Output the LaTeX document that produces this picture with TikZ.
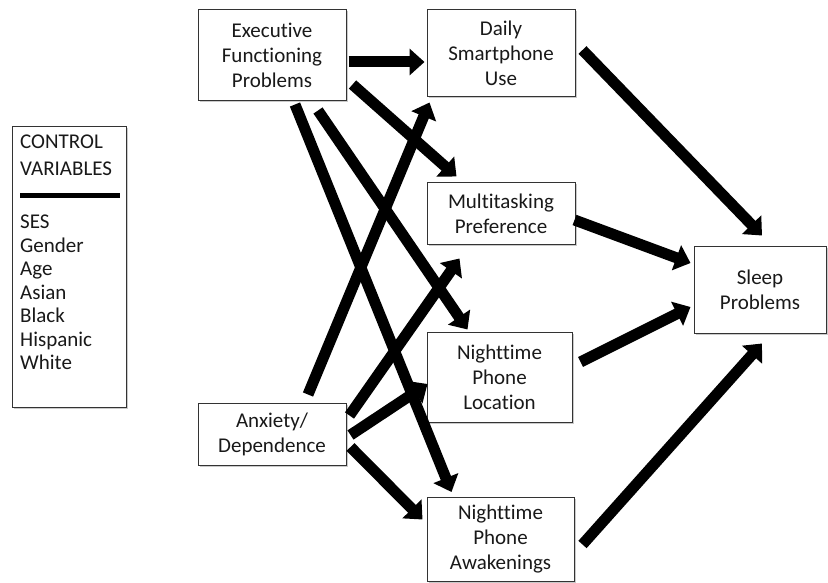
\documentclass[tikz,border=0pt]{standalone}
\usepackage{fontspec}
\setmainfont[Ligatures=NoCommon]{Carlito}
\usetikzlibrary{arrows.meta,calc,shadows}
\begin{document}
\begin{tikzpicture}[x=1pt,y=-1pt,
  box/.style={draw=black!80, line width=1pt, fill=white, align=center, inner sep=0pt,
    font=\fontsize{21}{25}\selectfont, text=black!90,
    drop shadow={shadow xshift=1.5pt,shadow yshift=-1.5pt,fill=black!35,opacity=0.6}},
  link/.style={line width=11pt, -{Triangle[length=15pt,width=26pt]}},
  ctrltext/.style={anchor=north west, align=left, inner sep=0pt, text=black!90}]
\useasboundingbox (0,0) rectangle (828,583);
% control box
\node[box, minimum width=114pt, minimum height=281pt] (ctrl) at (69.5,267) {};
\node[ctrltext, font=\fontsize{21}{27}\selectfont] (ctitle) at (20,135) {CONTROL\\VARIABLES};
\draw[line width=5pt] ($(ctrl.north west)+(8,70)$) -- ($(ctrl.north east)+(-7,70)$);
\node[ctrltext, font=\fontsize{21}{23.5}\selectfont] (clist) at (20,215) {SES\\Gender\\Age\\Asian\\Black\\Hispanic\\White};
% main nodes
\node[box, minimum width=148pt, minimum height=91pt] (exec) at (272,55.5) {Executive\\Functioning\\Problems};
\node[box, minimum width=148pt, minimum height=87pt] (daily) at (501,53.5) {Daily\\Smartphone\\Use};
\node[box, minimum width=148pt, minimum height=61pt] (multi) at (501,213.5) {Multitasking\\Preference};
\node[box, minimum width=132pt, minimum height=87pt] (sleep) at (760,289.5) {Sleep\\Problems};
\node[box, minimum width=145pt, minimum height=90pt] (loc) at (499.5,377) {Nighttime\\Phone\\Location};
\node[box, minimum width=147pt, minimum height=84pt] (awake) at (500.5,539.5) {Nighttime\\Phone\\Awakenings};
\node[box, minimum width=148pt, minimum height=62pt] (anx) at (272,434) {Anxiety/\\Dependence};
% arrows
\draw[link] ($(exec.east)+(2,6.5)$) -- ($(daily.west)+(-2,8.5)$);
\draw[link] ($(exec.south east)+(6,-17)$) -- ($(multi.north west)+(30,-6)$);
\draw[link] ($(exec.south)+(46,9)$) -- ($(loc.north west)+(41,-2)$);
\draw[link] ($(exec.south)+(23,3)$) -- ($(awake.north west)+(25,-5)$);
\draw[link] ($(anx.north)+(36,-8)$) -- ($(daily.south west)+(3,5)$);
\draw[link] ($(anx.north east)+(3,13)$) -- ($(multi.south west)+(33,14)$);
\draw[link] ($(anx.east)+(4,1)$) -- ($(loc.west)+(1,7)$);
\draw[link] ($(anx.east)+(4,13)$) -- ($(awake.west)+(-4,-20)$);
\draw[link] ($(daily.east)+(7,-3.5)$) -- ($(sleep.north)+(2,-10)$);
\draw[link] ($(multi.east)+(-1,6.5)$) -- ($(sleep.west)+(-3,-26.5)$);
\draw[link] ($(loc.east)+(8,-15)$) -- ($(sleep.west)+(-3,17.5)$);
\draw[link] ($(awake.east)+(8,5)$) -- ($(sleep.south)+(2,10)$);
\end{tikzpicture}
\end{document}
